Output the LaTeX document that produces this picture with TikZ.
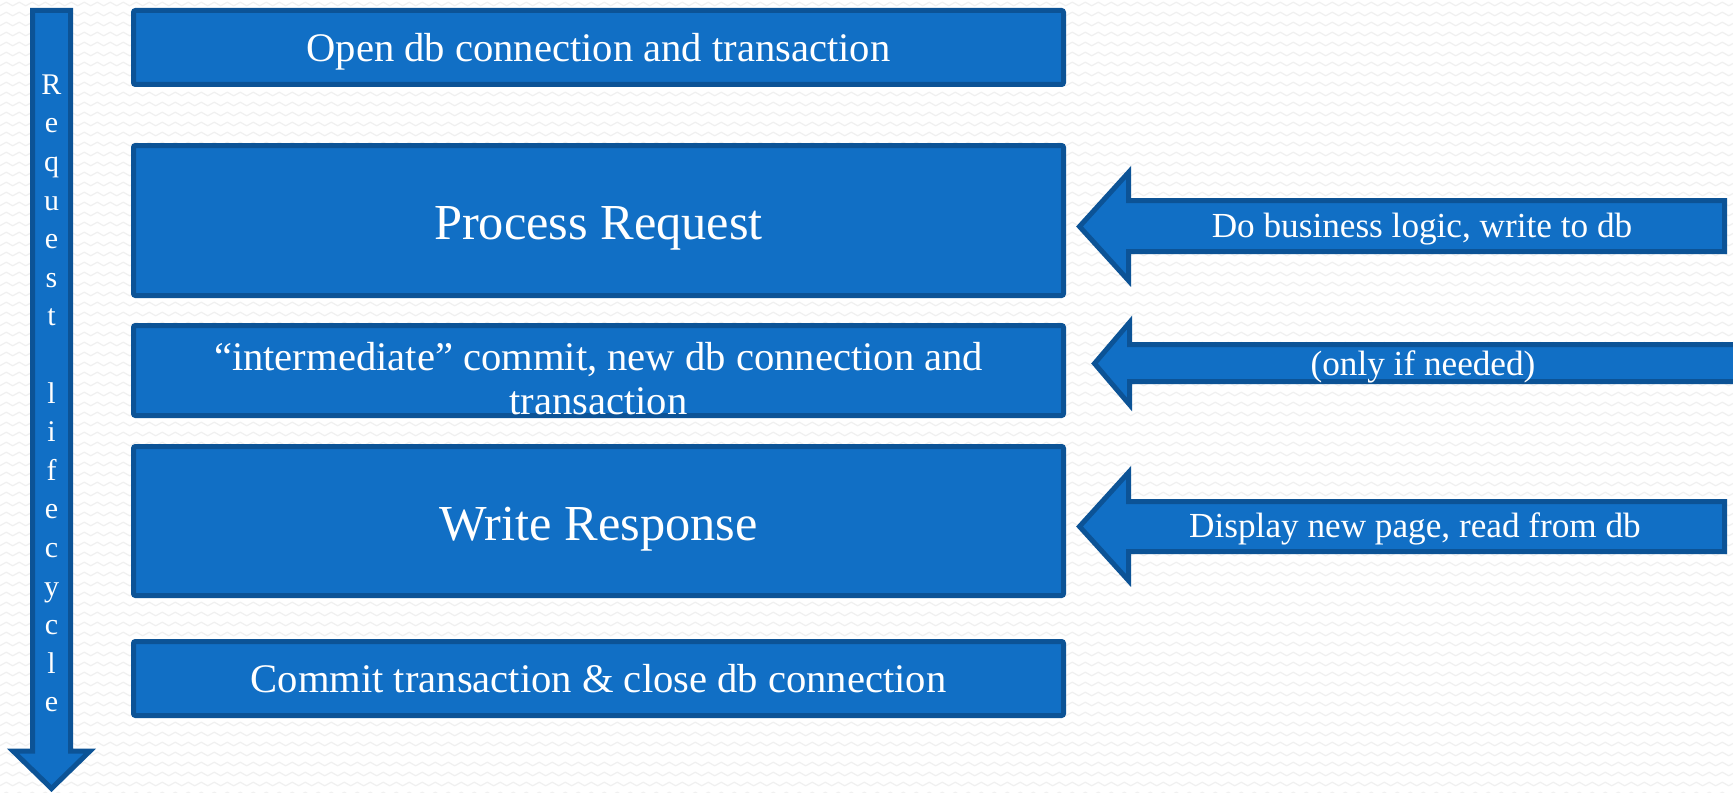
\documentclass[tikz,border=0pt]{standalone}
\usepackage{fontspec}
\setmainfont{Liberation Serif}
\usepackage{tikz}
\usetikzlibrary{positioning,decorations.pathmorphing}

\definecolor{fillblue}{RGB}{17,111,197}
\definecolor{edgeblue}{RGB}{12,83,150}

\tikzset{
  stepbox/.style={draw=edgeblue, fill=fillblue, line width=2.5pt, rounded corners=1pt,
    minimum width=465pt, inner sep=0pt, text=white, align=center,
    font=\fontsize{20.3}{22}\selectfont},
  bigstep/.style={stepbox, font=\fontsize{25.2}{28}\selectfont, text height=24.4pt},
  blockarrow/.style={draw=edgeblue, fill=fillblue, line width=2.5pt},
  arrowtext/.style={text=white, font=\fontsize{17.6}{20}\selectfont},
  bgline/.style={black!6, line width=0.6pt, decorate,
    decoration={zigzag, segment length=6.5pt, amplitude=0.9pt}}
}

\begin{document}
\begin{tikzpicture}[x=0.5pt, y=-0.5pt]
\useasboundingbox (0,0) rectangle (1733,792);
% faint background texture
\fill[white] (0,0) rectangle (1733,792);
\foreach \r in {0,...,79}
  \draw[bgline] (-10,{\r*10+4}) -- (1745,{\r*10+4});

% lifecycle arrow on the left
\draw[blockarrow] (32.5,10.5) -- (70.5,10.5) -- (70.5,751) -- (90,751)
  -- (51.5,788.5) -- (13,751) -- (32.5,751) -- cycle;
\node[text=white, align=center, font=\fontsize{15}{19.3}\selectfont] (lifecycle) at (51.5,393.5)
  {R\\e\\q\\u\\e\\s\\t\\~\\l\\i\\f\\e\\c\\y\\c\\l\\e};

% steps
\node[stepbox, minimum height=37pt, text height=18.3pt] (open) at (598.5,47.5) {Open db connection and transaction};
\node[bigstep, minimum height=75pt] (process) at (598.5,220.5) {Process Request};
\node[stepbox, minimum height=45pt] (commit) at (598.5,370.5) {};
\node[text=white, align=center, font=\fontsize{20.3}{22}\selectfont] (committext) at (598.5,378.5)
  {“intermediate” commit, new db connection and\\transaction};
\node[bigstep, minimum height=74.5pt] (respond) at (598.5,521) {Write Response};
\node[stepbox, minimum height=37pt] (close) at (598.5,678.5) {Commit transaction \& close db connection};

% arrows on the right
\draw[blockarrow] (1079.5,226.5) -- (1128.5,172.5) -- (1128.5,200.5) -- (1724.5,200.5)
  -- (1724.5,251.5) -- (1128.5,251.5) -- (1128.5,280.5) -- cycle;
\node[arrowtext] (logic) at (1422,229.5) {Do business logic, write to db};

\draw[blockarrow] (1094.5,363.5) -- (1129.5,322.5) -- (1129.5,344.5) -- (1760,344.5)
  -- (1760,381.5) -- (1129.5,381.5) -- (1129.5,404.5) -- cycle;
\node[arrowtext] (needed) at (1423,366.5) {(only if needed)};

\draw[blockarrow] (1079.5,526.5) -- (1128.5,472.5) -- (1128.5,501.5) -- (1724.5,501.5)
  -- (1724.5,551.5) -- (1128.5,551.5) -- (1128.5,580.5) -- cycle;
\node[arrowtext] (display) at (1415,528.5) {Display new page, read from db};
\end{tikzpicture}
\end{document}
